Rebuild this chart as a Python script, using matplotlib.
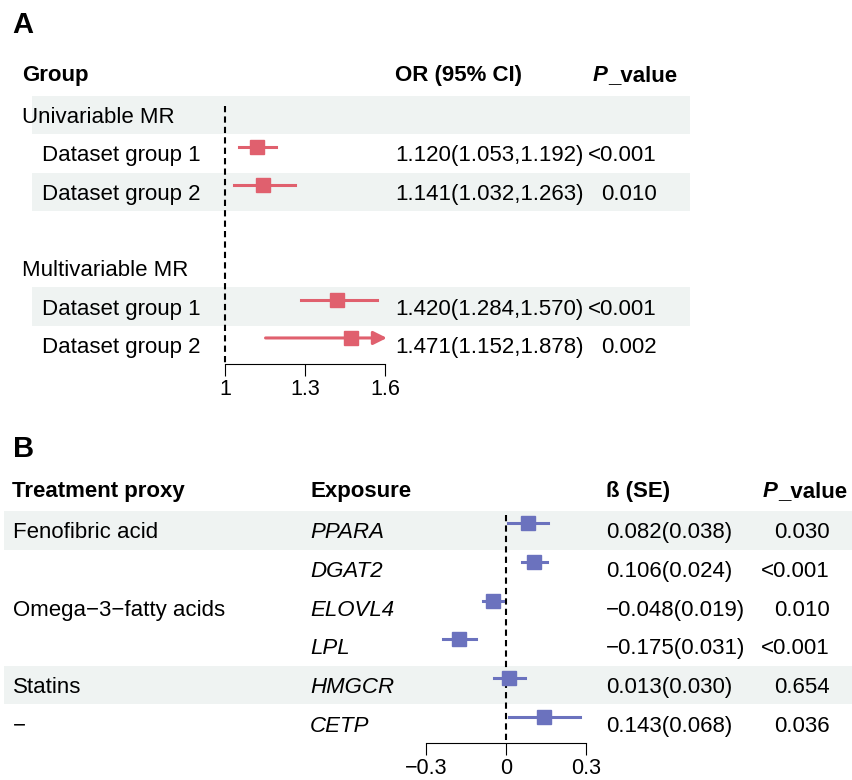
import matplotlib
matplotlib.use("Agg")
import matplotlib.pyplot as plt

plt.rcParams['font.family'] = ['Liberation Sans', 'DejaVu Sans']

# ---- data: panel A
a_labels = ["Univariable MR", "Dataset group 1", "Dataset group 2", "",
            "Multivariable MR", "Dataset group 1", "Dataset group 2"]
a_indent = [False, True, True, False, False, True, True]
a_rows = [1, 2, 5, 6]
a_or = [1.120, 1.141, 1.420, 1.471]
a_lo = [1.053, 1.032, 1.284, 1.152]
a_hi = [1.192, 1.263, 1.570, 1.878]
a_p = ["<0.001", "0.010", "<0.001", "0.002"]
a_shaded = [0, 2, 5]
a_ticks = [1, 1.3, 1.6]
a_ticklabels = ["1", "1.3", "1.6"]

# ---- data: panel B
b_proxy = ["Fenofibric acid", "", "Omega\u22123\u2212fatty acids", "", "Statins", "\u2212"]
b_exposure = ["PPARA", "DGAT2", "ELOVL4", "LPL", "HMGCR", "CETP"]
b_beta = [0.082, 0.106, -0.048, -0.175, 0.013, 0.143]
b_se = [0.038, 0.024, 0.019, 0.031, 0.030, 0.068]
b_p = ["0.030", "<0.001", "0.010", "<0.001", "0.654", "0.036"]
b_shaded = [0, 4]
b_ticks = [-0.3, 0, 0.3]
b_ticklabels = ["\u22120.3", "0", "0.3"]

RED = "#E0606E"
BLUE = "#6B72BE"
BAND = "#EFF3F2"
FS = 16
W, H = 853, 780

fig = plt.figure(figsize=(W / 100, H / 100), dpi=100)


def px_axes(x0, y0, x1, y1):
    return fig.add_axes([x0 / W, 1 - y1 / H, (x1 - x0) / W, (y1 - y0) / H])


def pvalue_header(ax, x, y):
    t = ax.text(x, y, "P", fontsize=FS, fontweight="bold", fontstyle="italic",
                va="center_baseline", ha="left")
    ax.annotate("_value", xy=(1, 0), xycoords=t, va="bottom", ha="left",
                fontsize=FS, fontweight="bold")


def forest_axes(x0, x1, y0, y1, xlim, nrows, ticks, ticklabels):
    ax = px_axes(x0, y0, x1, y1)
    ax.set_xlim(*xlim)
    ax.set_ylim(nrows - 0.5, -0.5)
    ax.patch.set_visible(False)
    for s in ["top", "left", "right"]:
        ax.spines[s].set_visible(False)
    ax.spines["bottom"].set_bounds(ticks[0], ticks[-1])
    ax.spines["bottom"].set_linewidth(0.8)
    ax.set_yticks([])
    ax.set_xticks(ticks)
    ax.set_xticklabels(ticklabels)
    ax.tick_params(axis="x", length=8.5, width=0.8, pad=2, labelsize=15.5)
    return ax


# ================= Panel A =================
fig.text(12 / W, 1 - 22 / H, "A", fontsize=21, fontweight="bold", va="center_baseline")

tab_a = px_axes(0, 96, W, 364)
tab_a.set_xlim(0, W)
tab_a.set_ylim(len(a_labels) - 0.5, -0.5)
tab_a.axis("off")
for r in a_shaded:
    tab_a.barh(r, 658, left=32, height=1, color=BAND, zorder=0)

hy = -1.1
tab_a.text(22, hy, "Group", fontsize=FS, fontweight="bold", va="center_baseline")
tab_a.text(395, hy, "OR (95% CI)", fontsize=FS, fontweight="bold", va="center_baseline")
pvalue_header(tab_a, 593, hy)

for i, (lab, ind) in enumerate(zip(a_labels, a_indent)):
    tab_a.text(42 if ind else 22, i, lab, fontsize=FS, va="center_baseline")
for r, o, lo, hi, p in zip(a_rows, a_or, a_lo, a_hi, a_p):
    tab_a.text(395, r, f"{o:.3f}({lo:.3f},{hi:.3f})", fontsize=FS, va="center_baseline")
    tab_a.text(657, r, p, fontsize=FS, va="center_baseline", ha="right")

fa = forest_axes(225, 385, 96, 364, (1, 1.6), len(a_labels), a_ticks, a_ticklabels)
fa.plot([1, 1], [-0.25, len(a_labels) - 0.5], ls=(0, (3, 2)), lw=1.5, color="black",
        clip_on=False, zorder=1)
xmax_a = a_ticks[-1]
for r, o, lo, hi in zip(a_rows, a_or, a_lo, a_hi):
    y = r - 0.18
    if hi > xmax_a:
        fa.annotate("", xy=(xmax_a + 0.007, y), xytext=(lo, y), annotation_clip=False,
                    arrowprops=dict(arrowstyle="-|>", color=RED, lw=2.2,
                                    mutation_scale=20, shrinkA=0, shrinkB=0),
                    zorder=2)
    else:
        fa.plot([lo, hi], [y, y], color=RED, lw=2.2, clip_on=False, zorder=2)
    fa.plot([o], [y], marker="s", ms=9.4, color=RED, clip_on=False, zorder=3)

# ================= Panel B =================
fig.text(13 / W, 1 - 446 / H, "B", fontsize=21, fontweight="bold", va="center_baseline")

tab_b = px_axes(0, 511, W, 743)
tab_b.set_xlim(0, W)
tab_b.set_ylim(len(b_exposure) - 0.5, -0.5)
tab_b.axis("off")
for r in b_shaded:
    tab_b.barh(r, W - 4, left=4, height=1, color=BAND, zorder=0)

hy = -1.08
tab_b.text(12, hy, "Treatment proxy", fontsize=FS, fontweight="bold", va="center_baseline")
tab_b.text(311, hy, "Exposure", fontsize=FS, fontweight="bold", va="center_baseline")
tab_b.text(606, hy, "\u00df (SE)", fontsize=FS, fontweight="bold", va="center_baseline")
pvalue_header(tab_b, 763, hy)

for i, (pr, ex, b, se, p) in enumerate(zip(b_proxy, b_exposure, b_beta, b_se, b_p)):
    tab_b.text(13, i, pr, fontsize=FS, va="center_baseline")
    tab_b.text(310, i, ex, fontsize=FS, fontstyle="italic", va="center_baseline")
    est = f"{b:.3f}({se:.3f})".replace("-", "\u2212")
    tab_b.text(606, i, est, fontsize=FS, va="center_baseline")
    tab_b.text(830, i, p, fontsize=FS, va="center_baseline", ha="right")

fb = forest_axes(426, 586, 511, 743, (-0.3, 0.3), len(b_exposure), b_ticks, b_ticklabels)
fb.plot([0, 0], [-0.4, len(b_exposure) - 0.5], ls=(0, (3, 2)), lw=1.5, color="black",
        clip_on=False, zorder=1)
for i, (b, se) in enumerate(zip(b_beta, b_se)):
    y = i - 0.18
    fb.plot([b - 1.96 * se, b + 1.96 * se], [y, y], color=BLUE, lw=2.2, clip_on=False, zorder=2)
    fb.plot([b], [y], marker="s", ms=9.4, color=BLUE, clip_on=False, zorder=3)

fig.savefig("out.png", dpi=100)
